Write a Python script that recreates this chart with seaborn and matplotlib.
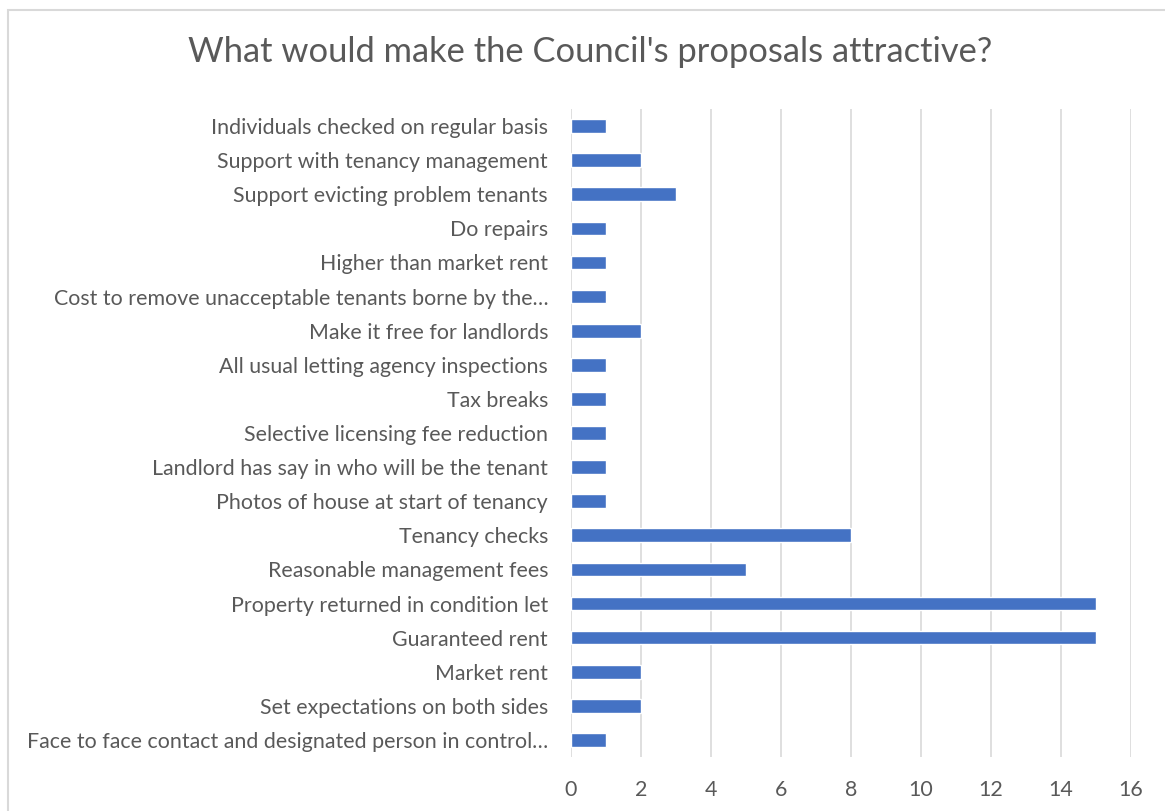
import matplotlib
matplotlib.use("Agg")
import matplotlib.pyplot as plt
import seaborn as sns
import pandas as pd
from matplotlib.patches import Rectangle

categories = [
    "Individuals checked on regular basis",
    "Support with tenancy management",
    "Support evicting problem tenants",
    "Do repairs",
    "Higher than market rent",
    "Cost to remove unacceptable tenants borne by the…",
    "Make it free for landlords",
    "All usual letting agency inspections",
    "Tax breaks",
    "Selective licensing fee reduction",
    "Landlord has say in who will be the tenant",
    "Photos of house at start of tenancy",
    "Tenancy checks",
    "Reasonable management fees",
    "Property returned in condition let",
    "Guaranteed rent",
    "Market rent",
    "Set expectations on both sides",
    "Face to face contact and designated person in control…",
]
counts = [1, 2, 3, 1, 1, 1, 2, 1, 1, 1, 1, 1, 8, 5, 15, 15, 2, 2, 1]
x_ticks = [0, 2, 4, 6, 8, 10, 12, 14, 16]
title = "What would make the Council's proposals attractive?"

sns.set_theme(style="white")
plt.rcParams["font.family"] = ["Lato", "DejaVu Sans"]

text_color = "#595959"
grid_color = "#D9D9D9"
bar_color = "#4472C4"

df = pd.DataFrame({"category": categories, "count": counts})

fig = plt.figure(figsize=(11.65, 8.11), dpi=100)
ax = fig.add_axes([571 / 1165, 1 - 757 / 811, 560 / 1165, 648 / 811])

sns.barplot(data=df, x="count", y="category", orient="h", color=bar_color,
            width=0.4, saturation=1, ax=ax)

ax.set_xlim(0, 16)
ax.set_xticks(x_ticks)
ax.set_xticklabels([str(t) for t in x_ticks])
ax.set_xlabel("")
ax.set_ylabel("")
ax.grid(axis="x", color=grid_color, linewidth=1.2)
ax.set_axisbelow(True)
for s in ax.spines.values():
    s.set_visible(False)
ax.tick_params(axis="both", length=0, labelsize=15.4, colors=text_color)
ax.tick_params(axis="y", pad=16.5)
ax.tick_params(axis="x", pad=16.5)

fig.text(590 / 1165, 1 - 52 / 811, title, ha="center", va="center",
         fontsize=24.8, color=text_color)

# chart frame
fig.patches.append(Rectangle((8 / 1165, -0.05), 1.2, 1 - 10 / 811 + 0.05,
                             transform=fig.transFigure, fill=False,
                             edgecolor=grid_color, linewidth=1.5))

fig.savefig("out.png", dpi=100, facecolor="white")
